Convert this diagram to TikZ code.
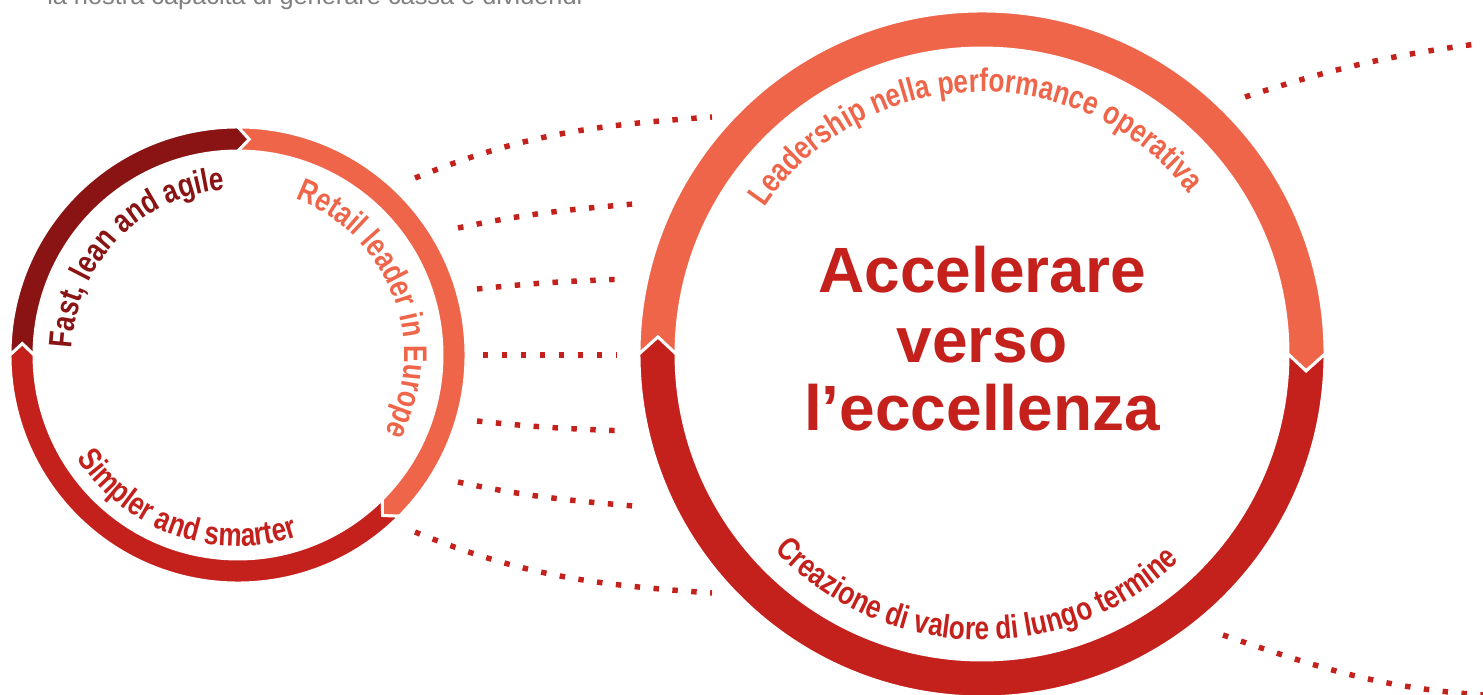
\documentclass[tikz,border=0pt]{standalone}
\usepackage{fontspec}
\setmainfont{Liberation Sans}
\newfontfamily\condfont[FakeStretch=0.8]{Liberation Sans}
\usetikzlibrary{decorations.text}
\definecolor{darkred}{HTML}{8A1414}
\definecolor{coral}{HTML}{EF654A}
\definecolor{brick}{HTML}{C4211C}
\definecolor{greytxt}{HTML}{808080}
\newcommand{\arcfont}{\condfont\bfseries\fontsize{24.5pt}{28pt}\selectfont}
% ring piece: outer r, inner r, from angle, to angle, colour (clockwise, tip at the end)
\newcommand{\ringpiece}[5]{%
  \fill[#5, draw=white, line width=2.2pt]
    (#3:#1) arc[start angle=#3, end angle=#4, radius=#1]
    -- ({#4-3}:{(#1+#2)/2}) -- (#4:#2)
    arc[start angle=#4, end angle=#3, radius=#2]
    -- ({#3-3}:{(#1+#2)/2}) -- cycle;}

\begin{document}
\begin{tikzpicture}[
    x=0.75pt, y=0.75pt,
    dotline/.style={brick, line width=4.1pt, dash pattern=on 4.1pt off 10.1pt},
    ringtxt/.style 2 args={decorate, decoration={text along path, text align=center,
        text color=#1, text={|\arcfont|#2}}},
    big/.style={brick, font=\bfseries\fontsize{48pt}{52pt}\selectfont, inner sep=0pt, anchor=base}
]
    \useasboundingbox (0,0) rectangle (1483,-695);
    \clip (0,0) rectangle (1483,-695);

    % ===== intro line (cut at the top) =====
    \node[greytxt, font=\fontsize{19pt}{22pt}\selectfont, inner sep=0pt, anchor=base west]
        (intro) at (47,-5) {la nostra capacità di generare cassa e dividendi};

    % ===== dotted links =====
    \coordinate (l1a) at (415,-178); \coordinate (l1b) at (712,-117);
    \coordinate (l2a) at (458,-228); \coordinate (l2b) at (645,-203);
    \coordinate (l3a) at (477,-289); \coordinate (l3b) at (627,-279);
    \coordinate (l4a) at (483,-355); \coordinate (l4b) at (617,-355);
    \coordinate (l5a) at (477,-421); \coordinate (l5b) at (627,-431);
    \coordinate (l6a) at (458,-482); \coordinate (l6b) at (645,-507);
    \coordinate (l7a) at (415,-532); \coordinate (l7b) at (712,-593);
    \coordinate (r1a) at (1245,-97);  \coordinate (r1b) at (1500,-41);
    \coordinate (r2a) at (1223,-635); \coordinate (r2b) at (1500,-696);
    \draw[dotline] (l1a) to[out=22, in=184] (l1b);
    \draw[dotline] (l2a) to[out=12, in=185] (l2b);
    \draw[dotline] (l3a) to[out=6, in=182] (l3b);
    \draw[dotline] (l4a) -- (l4b);
    \draw[dotline] (l5a) to[out=-6, in=178] (l5b);
    \draw[dotline] (l6a) to[out=-12, in=175] (l6b);
    \draw[dotline] (l7a) to[out=-22, in=176] (l7b);
    \draw[dotline] (r1a) to[out=18, in=187] (r1b);
    \draw[dotline] (r2a) to[out=-19, in=177] (r2b);

    % ===== small circle =====
    \begin{scope}[shift={(238,-355)}]
        \ringpiece{228}{204}{180}{90}{darkred}
        \ringpiece{228}{204}{90}{-45}{coral}
        \ringpiece{228}{204}{-45}{-180}{brick}
        \path[ringtxt={darkred}{Fast, lean and agile}] (226:166) arc[start angle=226, end angle=46, radius=166];
        \path[ringtxt={coral}{Retail leader in Europe}] (111:166) arc[start angle=111, end angle=-69, radius=166];
        \path[ringtxt={brick}{Simpler and smarter}] (160.5:191) arc[start angle=160.5, end angle=340.5, radius=191];
    \end{scope}

    % ===== big circle =====
    \begin{scope}[shift={(982,-354)}]
        \ringpiece{343}{306}{180}{0}{coral}
        \ringpiece{343}{306}{0}{-180}{brick}
        \path[ringtxt={coral}{Leadership nella performance operativa}] (182:262) arc[start angle=182, end angle=2, radius=262];
        \path[ringtxt={brick}{Creazione di valore di lungo termine}] (178.5:286) arc[start angle=178.5, end angle=358.5, radius=286];
    \end{scope}
    \node[big] (acc) at (982,-292) {Accelerare};
    \node[big] (ver) at (982,-362) {verso};
    \node[big] (ecc) at (982,-430) {l’eccellenza};
\end{tikzpicture}
\end{document}
